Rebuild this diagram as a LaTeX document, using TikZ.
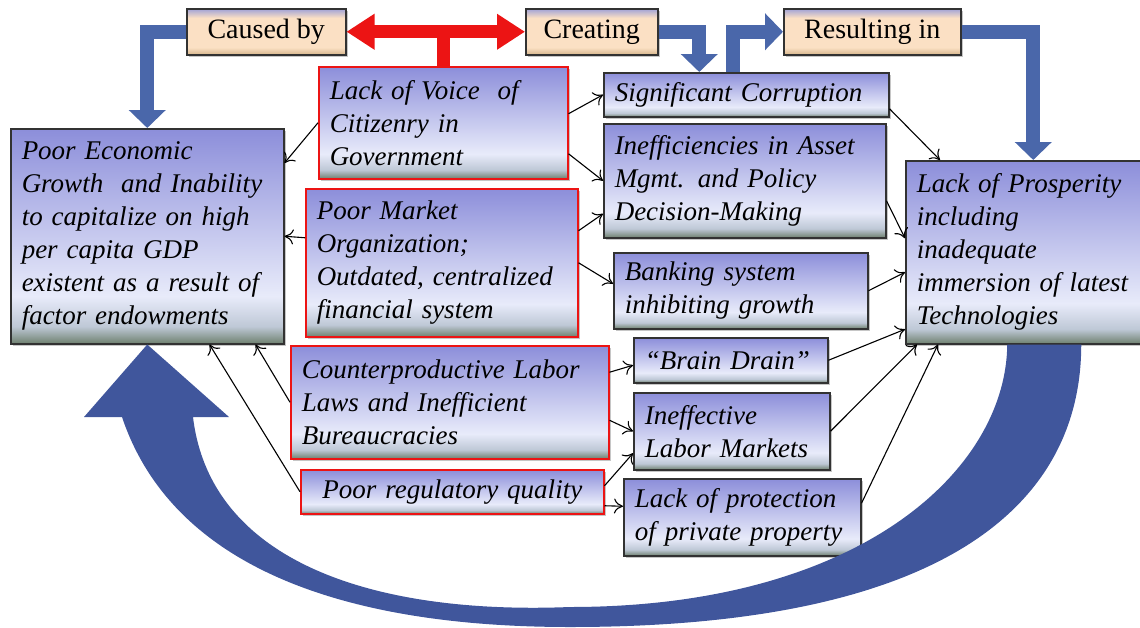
\documentclass[tikz,border=0pt]{standalone}
\usepackage{fontspec}
\setmainfont{Liberation Serif}
\usetikzlibrary{arrows.meta,shadows}
\definecolor{bxtop}{RGB}{140,142,218}
\definecolor{bxmid}{RGB}{232,235,250}
\definecolor{bxlow}{RGB}{190,200,214}
\definecolor{bxbot}{RGB}{110,128,110}
\definecolor{tgtop}{RGB}{160,162,215}
\definecolor{tgmid}{RGB}{251,224,196}
\definecolor{tgbot}{RGB}{214,182,140}
\definecolor{bxline}{RGB}{50,50,50}
\definecolor{arrowblue}{RGB}{74,103,170}
\definecolor{loopblue}{RGB}{64,86,156}
\definecolor{voicered}{RGB}{236,20,20}
\pgfdeclareverticalshading{boxshade}{100bp}{color(0bp)=(bxbot); color(25bp)=(bxbot); color(29bp)=(bxlow); color(36bp)=(bxmid); color(75bp)=(bxtop); color(100bp)=(bxtop)}
\pgfdeclareverticalshading{tagshade}{100bp}{color(0bp)=(tgbot); color(25bp)=(tgbot); color(33bp)=(tgmid); color(65bp)=(tgmid); color(75bp)=(tgtop); color(100bp)=(tgtop)}
\tikzstyle{box} = [draw=bxline, line width=1.5pt, shade, shading=boxshade, anchor=north west, align=left, inner xsep=11pt, inner ysep=2pt, font=\fontsize{27}{33}\selectfont\itshape, drop shadow={shadow xshift=2pt, shadow yshift=-2pt, opacity=.45}]
\tikzstyle{redbox} = [box, draw=voicered]
\tikzstyle{tagbox} = [draw=bxline, line width=1.5pt, shade, shading=tagshade, anchor=north west, inner sep=2pt, font=\fontsize{28}{33}\selectfont, drop shadow={shadow xshift=2pt, shadow yshift=-2pt, opacity=.45}]
\tikzstyle{link} = [-{To[length=9pt,width=15pt]}, line width=1.1pt]
\tikzstyle{flow} = [arrowblue, line width=14pt, -{Triangle[width=36pt,length=18pt]}]
\tikzstyle{voice} = [voicered, line width=13pt]

\begin{document}
\begin{tikzpicture}[x=1pt, y=-1pt]
	\useasboundingbox (0,0) rectangle (1140,627);
	% top tags
	\node[tagbox, minimum width=159pt, minimum height=46pt] (cb) at (186,8) {Caused by};
	\node[tagbox, minimum width=132pt, minimum height=46pt] (cr) at (525,8) {Creating};
	\node[tagbox, minimum width=177pt, minimum height=46pt] (ri) at (783,8) {Resulting in};
	% causes
	\node[redbox, minimum width=249pt, minimum height=112pt, text width=227pt] (lov) at (318,66) {Lack of Voice~ of\\Citizenry in\\Government};
	\node[redbox, minimum width=272pt, minimum height=148pt, text width=250pt] (pm) at (305,188) {Poor Market\\Organization;\\Outdated, centralized\\financial system};
	\node[redbox, minimum width=318pt, minimum height=113pt, text width=296pt] (cl) at (290,345) {Counterproductive Labor\\Laws and Inefficient\\Bureaucracies};
	\node[redbox, minimum width=303pt, minimum height=44pt, text width=281pt, align=center] (pr) at (300,469) {Poor regulatory quality};
	% effects
	\node[box, minimum width=273pt, minimum height=215pt, text width=251pt] (pe) at (10,128) {Poor Economic\\Growth~ and Inability\\to capitalize on high\\per capita GDP\\existent as a result of\\factor endowments};
	\node[box, minimum width=285pt, minimum height=44pt, text width=263pt] (sc) at (603,72) {Significant Corruption};
	\node[box, minimum width=282pt, minimum height=114pt, text width=260pt] (ia) at (603,123) {Inefficiencies in Asset\\Mgmt. and Policy\\Decision-Making};
	\node[box, minimum width=254pt, minimum height=76pt, text width=232pt] (bs) at (613,252) {Banking system\\inhibiting growth};
	\node[box, minimum width=194pt, minimum height=45pt, text width=172pt] (bd) at (633,337) {“Brain Drain”};
	\node[box, minimum width=196pt, minimum height=77pt, text width=174pt] (il) at (633,392) {Ineffective\\Labor Markets};
	\node[box, minimum width=237pt, minimum height=77pt, text width=215pt] (lp) at (623,478) {Lack of protection\\of private property};
	\node[box, minimum width=235pt, minimum height=183pt, text width=213pt] (lop) at (905,160) {Lack of Prosperity\\including\\inadequate\\immersion of latest\\Technologies};
	% thick arrows at the top
	\draw[flow] (cb.west) -| (pe.north);
	\draw[flow] (cr.east) -| ([xshift=-47pt]sc.north);
	\draw[flow] ([xshift=-13pt]sc.north) |- (ri.west);
	\draw[flow] (ri.east) -| ([xshift=10pt]lop.north);
	\draw[voice] (lov.north) -- (lov.north |- cb.east);
	\draw[voice, {Triangle[width=34pt,length=28pt]}-{Triangle[width=34pt,length=28pt]}] (cb.east) -- (cr.west);
	% thin links
	\draw[link] (lov.west) -- ([yshift=-35pt]pe.north east);
	\draw[link] ([yshift=25pt]pm.west) -- (pe.east);
	\draw[link] (cl.west) -- ([xshift=-29pt]pe.south east);
	\draw[link] (pr.west) -- ([xshift=-75pt]pe.south east);
	\draw[link] ([yshift=9pt]lov.east) -- (sc.west);
	\draw[link] ([yshift=-31pt]lov.east) -- (ia.west);
	\draw[link] ([yshift=32pt]pm.east) -- ([yshift=-33pt]ia.west);
	\draw[link] (pm.east) -- ([yshift=7pt]bs.west);
	\draw[link] ([yshift=30pt]cl.east) -- ([yshift=-5pt]bd.west);
	\draw[link] ([yshift=-18pt]cl.east) -- (il.west);
	\draw[link] ([yshift=6pt]pr.east) -- ([yshift=-22pt]il.west);
	\draw[link] ([yshift=-14pt]pr.east) -- ([yshift=11pt]lp.west);
	\draw[link] ([yshift=-14pt]sc.east) -- ([xshift=35pt]lop.north west);
	\draw[link] ([yshift=-20pt]ia.east) -- ([yshift=14pt]lop.west);
	\draw[link] (bs.east) -- ([yshift=-20pt]lop.west);
	\draw[link] (bd.east) -- ([yshift=-77pt]lop.west);
	\draw[link] (il.east) -- ([xshift=12pt]lop.south west);
	\draw[link] ([yshift=14pt]lp.east) -- ([xshift=33pt]lop.south west);
	% loop back
	\fill[loopblue] ([xshift=58pt]lop.south) .. controls +(0,157) and (950,627) .. (570,627)
		.. controls (330,627) and (170,560) .. (122,417) -- (84,417) -- (pe.south) -- (229,417) -- (193,417)
		.. controls (210,560) and (370,615) .. (570,607) .. controls (860,607) and (1006,470) .. ([xshift=-16pt]lop.south) -- cycle;
\end{tikzpicture}
\end{document}
